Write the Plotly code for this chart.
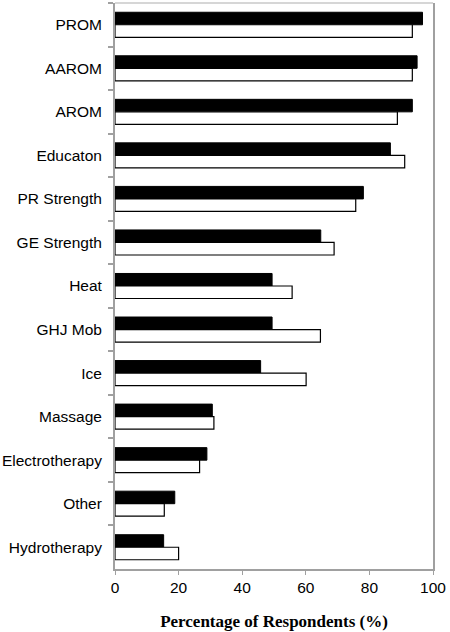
import plotly.graph_objects as go

categories = ["PROM", "AAROM", "AROM", "Educaton", "PR Strength", "GE Strength", "Heat",
              "GHJ Mob", "Ice", "Massage", "Electrotherapy", "Other", "Hydrotherapy"]
series_black = [96.7, 95.0, 93.5, 86.6, 78.1, 64.7, 49.4, 49.4, 45.8, 30.6, 28.9, 18.8, 15.3]
series_white = [93.5, 93.5, 88.8, 91.1, 75.7, 68.9, 55.7, 64.6, 60.1, 31.1, 26.6, 15.5, 20.0]
x_ticks = [0, 20, 40, 60, 80, 100]
x_title = "Percentage of Respondents (%)"

fig = go.Figure()
fig.add_trace(go.Bar(y=categories, x=series_black, orientation="h",
                     marker=dict(color="#000000", line=dict(color="#000000", width=1)),
                     showlegend=False))
fig.add_trace(go.Bar(y=categories, x=series_white, orientation="h",
                     marker=dict(color="#ffffff", line=dict(color="#000000", width=1.2)),
                     showlegend=False))

fig.update_layout(
    width=450, height=632,
    margin=dict(l=115, r=17, t=3, b=63),
    paper_bgcolor="white", plot_bgcolor="white",
    barmode="group", bargap=0.425, bargroupgap=0,
    font=dict(family="Liberation Sans, Arial, sans-serif", size=15.5, color="#000000"),
    xaxis=dict(range=[0, 100], tickvals=x_ticks, showgrid=False, zeroline=False,
               showline=True, linecolor="#a0a0a0", linewidth=1.5, automargin=False,
               ticks="outside", ticklen=4, tickcolor="#a0a0a0", tickwidth=1,
               tickfont=dict(size=15.5),
               title=dict(text="<b>" + x_title + "</b>",
                          font=dict(family="Liberation Serif, Times New Roman, serif", size=17),
                          standoff=20)),
    yaxis=dict(categoryorder="array", categoryarray=categories, autorange="reversed",
               showgrid=False, zeroline=False, showline=True, mirror=True, automargin=False,
               linecolor="#a0a0a0", linewidth=2,
               ticks="outside", tickson="boundaries", ticklen=5, tickcolor="#a0a0a0", tickwidth=1.5,
               ticklabelstandoff=8, tickfont=dict(size=15.5)),
    shapes=[dict(type="line", xref="paper", yref="paper", x0=0, x1=1, y0=1, y1=1,
                 line=dict(color="#c8c8c8", width=1.5))],
)

fig.write_html("out.html", config={"displayModeBar": False},
               post_script="document.body.style.margin='0';document.body.style.overflow='hidden';")
